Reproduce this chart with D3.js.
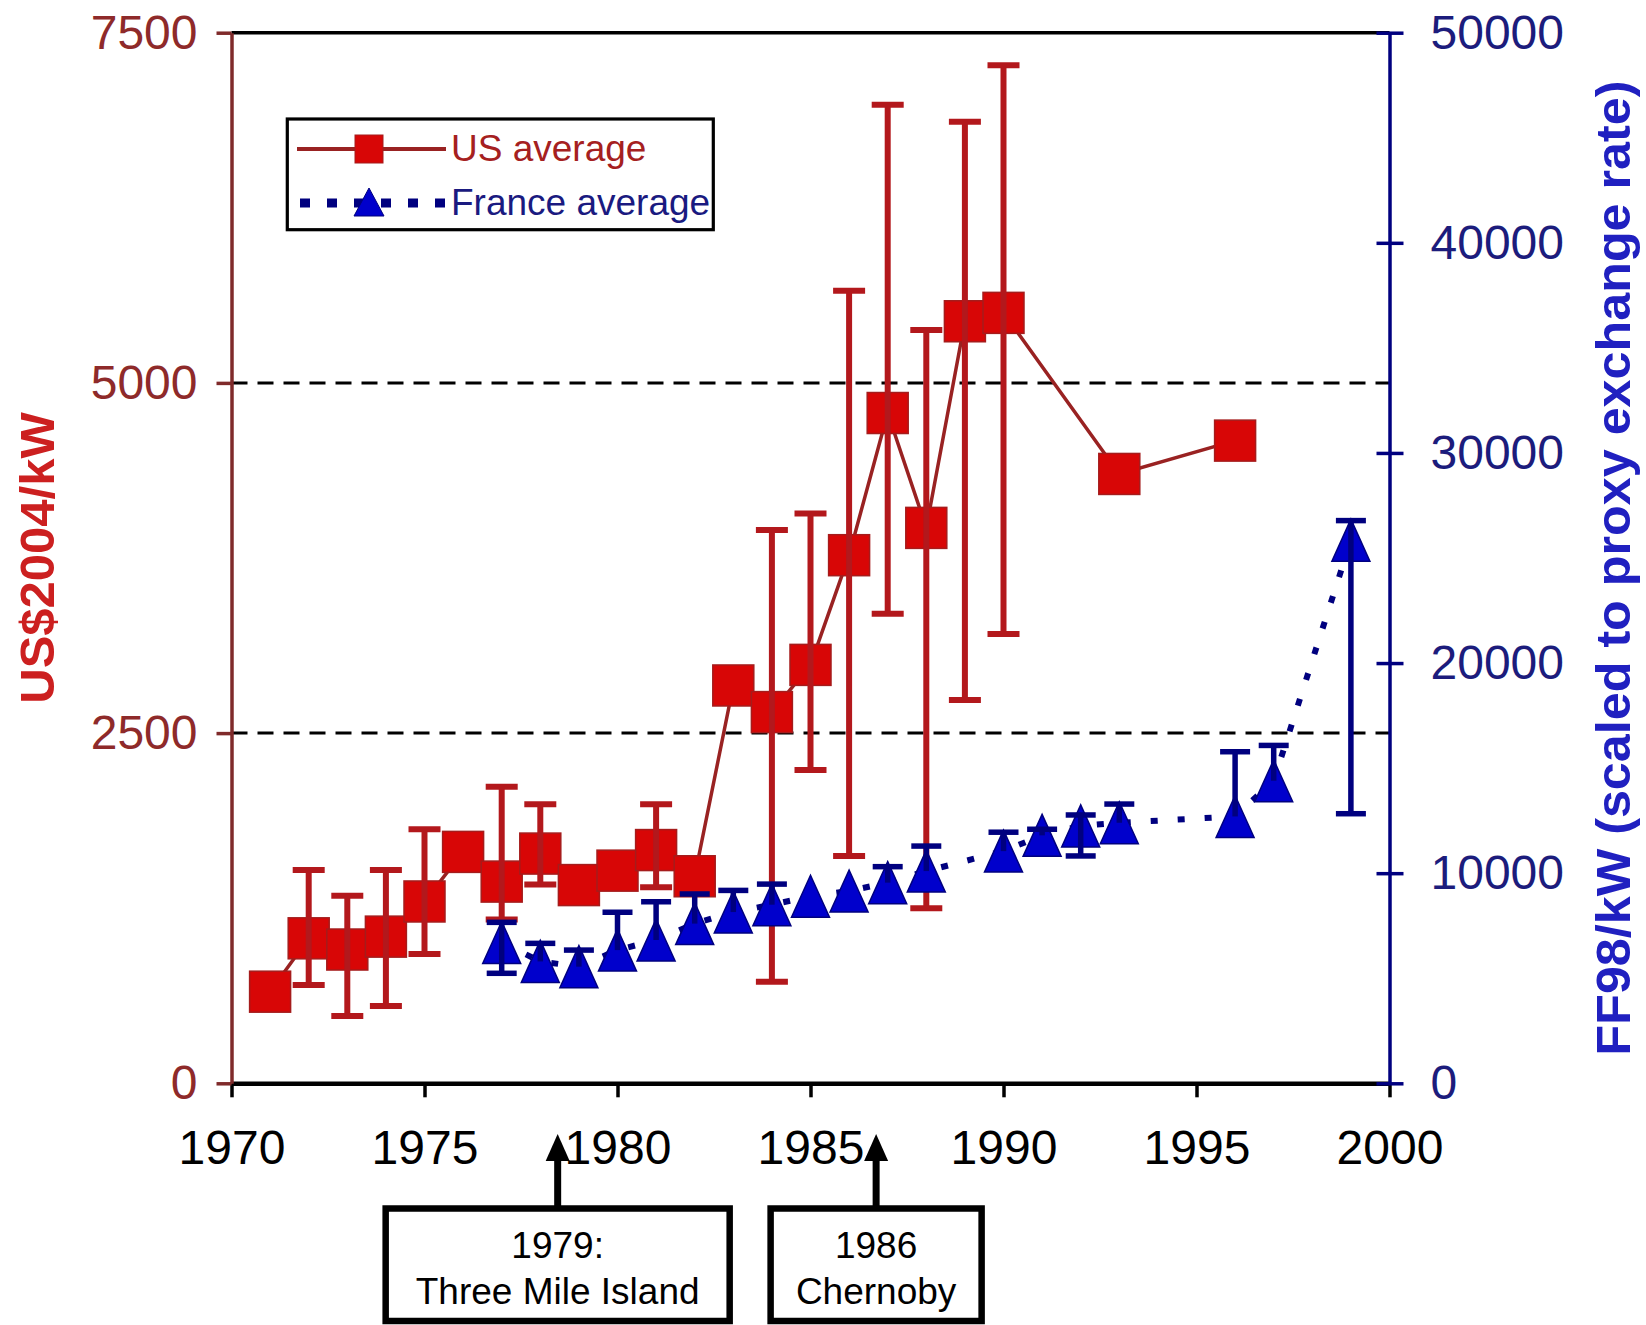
<!DOCTYPE html>
<html>
<head>
<meta charset="utf-8">
<script src="https://cdn.jsdelivr.net/npm/d3@7"></script>
<style>
body { margin: 0; background: #fff; }
svg { display: block; font-family: "Liberation Sans", Arial, sans-serif; }
</style>
</head>
<body>
<svg id="chart" width="1646" height="1325"></svg>
<script>
// US average, US$2004/kW (left axis)
var usYears  = [1971, 1972, 1973, 1974, 1975, 1976, 1977, 1978, 1979, 1980, 1981, 1982, 1983, 1984, 1985, 1986, 1987, 1988, 1989, 1990, 1993, 1996];
var usValues = [654, 1035, 955, 1047, 1298, 1652, 1440, 1640, 1415, 1518, 1665, 1478, 2840, 2650, 2987, 3770, 4785, 3965, 5440, 5500, 4350, 4588];
var usHigh   = [null, 1523, 1339, 1523, 1813, null, 2117, 1992, null, null, 1992, null, null, 3950, 4068, 5658, 6985, 5378, 6865, 7267, null, null];
var usLow    = [null, 702, 480, 552, 923, null, 1170, 1420, null, null, 1400, null, null, 725, 2237, 1623, 3352, 1249, 2737, 3208, null, null];

// France average, FF98/kW (right axis)
var frYears  = [1977, 1978, 1979, 1980, 1981, 1982, 1983, 1984, 1985, 1986, 1987, 1988, 1990, 1991, 1992, 1993, 1996, 1997, 1999];
var frValues = [6700, 5800, 5550, 6340, 6820, 7600, 8150, 8500, 8900, 9150, 9550, 10100, 11050, 11800, 12250, 12400, 12700, 14400, 25850];
var frHigh   = [7660, 6660, 6340, 8140, 8640, 9010, 9180, 9480, null, null, 10310, 11290, 11950, 12090, 12770, 13290, 15780, 16080, 26780];
var frLow    = [5235, null, null, null, null, null, null, null, null, null, null, null, null, null, 10820, null, null, null, 12830];

var seriesNames = ["US average", "France average"];

// axes ticks
var xTicks = [1970, 1975, 1980, 1985, 1990, 1995, 2000];
var leftTicks = [0, 2500, 5000, 7500];
var rightTicks = [0, 10000, 20000, 30000, 40000, 50000];

// events marked under the axis
var eventYears = [1978.45, 1986.7];
var eventLabels = [["1979:", "Three Mile Island"], ["1986", "Chernoby"]];

var svg = d3.select("#chart");

var x = d3.scaleLinear().domain([1970, 2000]).range([231.5, 1389.5]);
var yL = d3.scaleLinear().domain([0, 7500]).range([1083.3, 32.7]);
var yR = d3.scaleLinear().domain([0, 50000]).range([1083.3, 32.7]);

var RED = "#d80606", REDLINE = "#992222", REDBAR = "#b3181c";
var BLUE = "#0000cc", NAVY = "#00007f";
var fmt = d3.format("d");

// dashed grid lines
svg.append("g").selectAll("line")
    .data(leftTicks.filter(function(d) { return d > 0 && d < 7500; }))
    .enter().append("line")
      .attr("x1", x.range()[0]).attr("x2", x.range()[1])
      .attr("y1", function(d) { return yL(d); })
      .attr("y2", function(d) { return yL(d); })
      .attr("stroke", "#000").attr("stroke-width", 3)
      .attr("stroke-dasharray", "16,10");

// top frame line
svg.append("line")
    .attr("x1", x.range()[0]).attr("x2", x.range()[1])
    .attr("y1", yL(7500)).attr("y2", yL(7500))
    .attr("stroke", "#000").attr("stroke-width", 3.5);

// ---- US series
var us = usYears.map(function(yr, i) {
  return {year: yr, v: usValues[i], hi: usHigh[i], lo: usLow[i]};
});

svg.append("path")
    .datum(us)
    .attr("fill", "none")
    .attr("stroke", REDLINE)
    .attr("stroke-width", 3.5)
    .attr("d", d3.line().x(function(d) { return x(d.year); }).y(function(d) { return yL(d.v); }));

svg.append("g").selectAll("rect")
    .data(us)
    .enter().append("rect")
      .attr("x", function(d) { return x(d.year) - 20.5; })
      .attr("y", function(d) { return yL(d.v) - 20.5; })
      .attr("width", 41).attr("height", 41)
      .attr("fill", RED).attr("stroke", "#a51c1c").attr("stroke-width", 1.5);

var usErr = svg.append("g")
    .attr("stroke", REDBAR).attr("stroke-width", 6)
  .selectAll("g")
  .data(us.filter(function(d) { return d.hi != null; }))
  .enter().append("g");

usErr.append("line")
    .attr("x1", function(d) { return x(d.year); })
    .attr("x2", function(d) { return x(d.year); })
    .attr("y1", function(d) { return yL(d.hi); })
    .attr("y2", function(d) { return yL(d.lo); });
usErr.append("line")
    .attr("x1", function(d) { return x(d.year) - 16; })
    .attr("x2", function(d) { return x(d.year) + 16; })
    .attr("y1", function(d) { return yL(d.hi); })
    .attr("y2", function(d) { return yL(d.hi); });
usErr.append("line")
    .attr("x1", function(d) { return x(d.year) - 16; })
    .attr("x2", function(d) { return x(d.year) + 16; })
    .attr("y1", function(d) { return yL(d.lo); })
    .attr("y2", function(d) { return yL(d.lo); });

// ---- France series
var fr = frYears.map(function(yr, i) {
  return {year: yr, v: frValues[i], hi: frHigh[i], lo: frLow[i]};
});

svg.append("path")
    .datum(fr)
    .attr("fill", "none")
    .attr("stroke", NAVY)
    .attr("stroke-width", 6)
    .attr("stroke-dasharray", "7,20")
    .attr("d", d3.line().x(function(d) { return x(d.year); }).y(function(d) { return yR(d.v); }));

var tri = "M0,-21L19,21L-19,21Z";

svg.append("g").selectAll("path")
    .data(fr)
    .enter().append("path")
      .attr("d", tri)
      .attr("transform", function(d) { return "translate(" + x(d.year) + "," + yR(d.v) + ")"; })
      .attr("fill", BLUE).attr("stroke", NAVY).attr("stroke-width", 1.5);

var frErr = svg.append("g")
    .attr("stroke", NAVY).attr("stroke-width", 5.5)
  .selectAll("g")
  .data(fr.filter(function(d) { return d.hi != null; }))
  .enter().append("g");

frErr.append("line")
    .attr("x1", function(d) { return x(d.year); })
    .attr("x2", function(d) { return x(d.year); })
    .attr("y1", function(d) { return yR(d.hi); })
    .attr("y2", function(d) { return yR(d.lo != null ? d.lo : d.v); });
frErr.append("line")
    .attr("x1", function(d) { return x(d.year) - 15; })
    .attr("x2", function(d) { return x(d.year) + 15; })
    .attr("y1", function(d) { return yR(d.hi); })
    .attr("y2", function(d) { return yR(d.hi); });
frErr.filter(function(d) { return d.lo != null; }).append("line")
    .attr("x1", function(d) { return x(d.year) - 15; })
    .attr("x2", function(d) { return x(d.year) + 15; })
    .attr("y1", function(d) { return yR(d.lo); })
    .attr("y2", function(d) { return yR(d.lo); });

// ---- axes
var xAxis = svg.append("g")
    .attr("transform", "translate(0," + yL(0) + ")")
    .call(d3.axisBottom(x).tickValues(xTicks).tickFormat(fmt)
      .tickSize(14).tickSizeOuter(0).tickPadding(33));
xAxis.select(".domain").attr("stroke", "#000").attr("stroke-width", 4.5);
xAxis.selectAll(".tick line").attr("stroke", "#000").attr("stroke-width", 3.5);
xAxis.selectAll("text").attr("font-size", 48).attr("fill", "#000")
    .attr("font-family", "Liberation Sans, Arial, sans-serif");

var lAxis = svg.append("g")
    .attr("transform", "translate(" + x.range()[0] + ",0)")
    .call(d3.axisLeft(yL).tickValues(leftTicks).tickFormat(fmt)
      .tickSize(15).tickSizeOuter(0).tickPadding(19));
lAxis.select(".domain").attr("stroke", "#7f2a2a").attr("stroke-width", 3.5);
lAxis.selectAll(".tick line").attr("stroke", "#7f2a2a").attr("stroke-width", 3.5);
lAxis.selectAll("text").attr("font-size", 48).attr("fill", "#8e2a2a")
    .attr("font-family", "Liberation Sans, Arial, sans-serif");

var rAxis = svg.append("g")
    .attr("transform", "translate(" + x.range()[1] + ",0)")
    .call(d3.axisRight(yR).tickValues(rightTicks).tickFormat(fmt)
      .tickSize(14).tickSizeOuter(0).tickPadding(27));
rAxis.select(".domain").attr("stroke", NAVY).attr("stroke-width", 3.5);
rAxis.selectAll(".tick line").attr("x1", -13).attr("stroke", NAVY).attr("stroke-width", 3.5);
rAxis.selectAll("text").attr("font-size", 48).attr("fill", "#1c1c7c")
    .attr("font-family", "Liberation Sans, Arial, sans-serif");

// axis titles
svg.append("text")
    .attr("transform", "translate(54," + yL(3750) + ") rotate(-90)")
    .attr("text-anchor", "middle")
    .attr("font-size", 49).attr("font-weight", "bold")
    .attr("fill", "#cc2020")
    .text("US$2004/kW");

svg.append("text")
    .attr("transform", "translate(1630,568) rotate(-90)")
    .attr("text-anchor", "middle")
    .attr("font-size", 48).attr("font-weight", "bold")
    .attr("textLength", 975).attr("lengthAdjust", "spacingAndGlyphs")
    .attr("fill", "#2020c0")
    .text("FF98/kW (scaled to proxy exchange rate)");

// ---- legend
var legend = svg.append("g");
legend.append("rect")
    .attr("x", 287.3).attr("y", 119).attr("width", 426).attr("height", 110.7)
    .attr("fill", "#fff").attr("stroke", "#000").attr("stroke-width", 3.2);

legend.append("line")
    .attr("x1", 297).attr("x2", 446).attr("y1", 149).attr("y2", 149)
    .attr("stroke", REDLINE).attr("stroke-width", 4);
legend.append("rect")
    .attr("x", 355).attr("y", 135).attr("width", 28).attr("height", 28)
    .attr("fill", RED).attr("stroke", "#a51c1c").attr("stroke-width", 1);
legend.append("line")
    .attr("x1", 300).attr("x2", 446).attr("y1", 203).attr("y2", 203)
    .attr("stroke", NAVY).attr("stroke-width", 9).attr("stroke-dasharray", "10,17");
legend.append("path")
    .attr("d", "M0,-15L15,13L-15,13Z")
    .attr("transform", "translate(369,203)")
    .attr("fill", BLUE).attr("stroke", NAVY).attr("stroke-width", 1);

legend.selectAll("text")
    .data(seriesNames)
    .enter().append("text")
      .attr("x", 451)
      .attr("y", function(d, i) { return 160.5 + i * 54; })
      .attr("font-size", 37)
      .attr("fill", function(d, i) { return i === 0 ? "#a52020" : "#1a1a80"; })
      .text(function(d) { return d; });

// ---- event annotations
var boxWidths = [350, 217];
var ev = svg.append("g").selectAll("g")
    .data(eventYears)
    .enter().append("g");

ev.append("line")
    .attr("x1", function(d) { return x(d); })
    .attr("x2", function(d) { return x(d); })
    .attr("y1", 1206).attr("y2", 1155)
    .attr("stroke", "#000").attr("stroke-width", 7);
ev.append("path")
    .attr("d", function(d) { var cx = x(d); return "M" + cx + ",1134L" + (cx + 12) + ",1161L" + (cx - 12) + ",1161Z"; })
    .attr("fill", "#000");
ev.append("rect")
    .attr("x", function(d, i) { return x(d) - boxWidths[i] / 2 + 3; })
    .attr("y", 1208.5)
    .attr("width", function(d, i) { return boxWidths[i] - 6; })
    .attr("height", 112.5)
    .attr("fill", "#fff").attr("stroke", "#000").attr("stroke-width", 6.5);
ev.each(function(d, i) {
  var g = d3.select(this);
  eventLabels[i].forEach(function(s, j) {
    g.append("text")
      .attr("x", x(d))
      .attr("y", 1258 + j * 46)
      .attr("text-anchor", "middle")
      .attr("font-size", 37)
      .attr("fill", "#000")
      .text(s);
  });
});
</script>
</body>
</html>
